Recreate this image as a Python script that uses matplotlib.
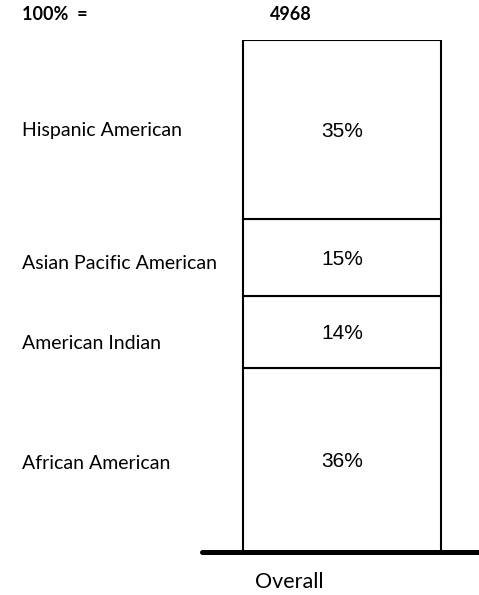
import matplotlib
matplotlib.use("Agg")
import matplotlib.pyplot as plt

categories = ["African American", "American Indian", "Asian Pacific American", "Hispanic American"]
values = [36, 14, 15, 35]
total = 4968
bar_label = "Overall"

W, H = 479, 595
fig = plt.figure(figsize=(W / 100, H / 100), dpi=100)
bar_left_px, bar_right_px = 243, 441
top_px, bottom_px = 40, 552
ax = fig.add_axes([0, (H - bottom_px) / H, 1, (bottom_px - top_px) / H])
unit = bar_right_px - bar_left_px
ax.set_xlim(-0.5 - bar_left_px / unit, 0.5 + (W - bar_right_px) / unit)
ax.set_ylim(0, sum(values))
ax.axis("off")

label_font = "Lato"
bottom = 0
label_offsets = [-4, -12, -6, -1]
for cat, v, off in zip(categories, values, label_offsets):
    ax.bar(0, v, width=1, bottom=bottom, color="white", edgecolor="black", linewidth=1.5, zorder=2)
    ax.annotate(f"{v}%", xy=(0, bottom + v / 2), xytext=(0, -2), textcoords="offset pixels",
                ha="center", va="center", fontsize=15, family="Liberation Sans", zorder=3)
    ax.annotate(cat, xy=(22 / W, bottom + v / 2), xycoords=("figure fraction", "data"),
                xytext=(0, off), textcoords="offset pixels",
                ha="left", va="center", fontsize=14, family=label_font)
    bottom += v

# baseline
ax.plot([(202 - bar_left_px) / unit - 0.5, (W + 5 - bar_left_px) / unit - 0.5], [0, 0],
        color="black", linewidth=3.6, solid_capstyle="round", zorder=4, clip_on=False)

fig.text(22 / W, 1 - 15 / H, "100%  =", ha="left", va="center", fontsize=13,
         fontweight="bold", family=label_font)
fig.text(291 / W, 1 - 15 / H, f"{total}", ha="center", va="center", fontsize=13,
         fontweight="bold", family=label_font)
fig.text(289 / W, 1 - 582 / H, bar_label, ha="center", va="center", fontsize=15.5,
         family=label_font)

fig.savefig("out.png", dpi=100)
